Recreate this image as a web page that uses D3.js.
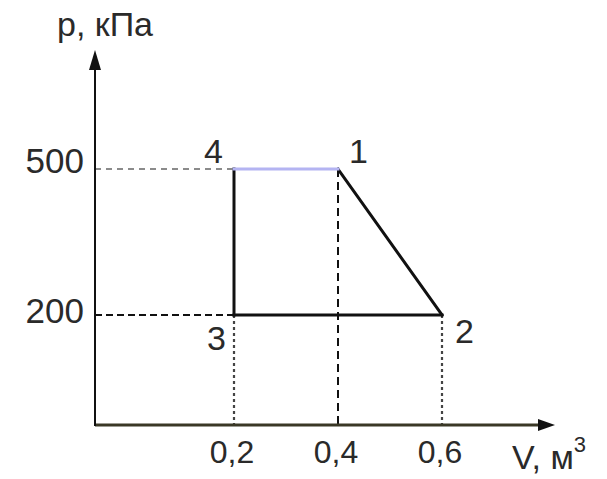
<!DOCTYPE html>
<html><head><meta charset="utf-8">
<script src="https://cdn.jsdelivr.net/npm/d3@7"></script>
<style>body{margin:0;background:#fff}svg{display:block}text{font-family:"Liberation Sans",Arial,sans-serif;fill:#2a2a2a}</style>
</head><body>
<script>
const vValues = [0.2, 0.4, 0.6];
const vLabels = ["0,2", "0,4", "0,6"];
const pValues = [500, 200];
const pLabels = ["500", "200"];
const stateNames = ["1", "2", "3", "4"];
const stateV = [0.4, 0.6, 0.2, 0.2];
const stateP = [500, 200, 200, 500];

const W = 607, H = 479;
const ox = 95, oy = 425;
const svg = d3.select("body").append("svg").attr("width", W).attr("height", H);
const x = d3.scaleLinear().domain([0.2, 0.6]).range([234, 442]);
const y = d3.scaleLinear().domain([200, 500]).range([315, 169]);

const pts = stateNames.map((n, i) => ({n, v: stateV[i], p: stateP[i]}));

// dashed guides
svg.append("line").attr("x1", ox).attr("x2", x(0.2)).attr("y1", y(500)).attr("y2", y(500))
  .attr("stroke", "#666").attr("stroke-width", 1.3).attr("stroke-dasharray", "6,5");
svg.append("line").attr("x1", ox).attr("x2", x(0.2)).attr("y1", y(200)).attr("y2", y(200))
  .attr("stroke", "#111").attr("stroke-width", 2).attr("stroke-dasharray", "7,4");
svg.append("line").attr("x1", x(0.4)).attr("x2", x(0.4)).attr("y1", y(500)).attr("y2", oy)
  .attr("stroke", "#111").attr("stroke-width", 2).attr("stroke-dasharray", "8,5");
[0.2, 0.6].forEach(v => {
  svg.append("line").attr("x1", x(v)).attr("x2", x(v)).attr("y1", y(200)).attr("y2", oy)
    .attr("stroke", "#444").attr("stroke-width", 2.2).attr("stroke-dasharray", "3,3");
});

// axes
svg.append("line").attr("x1", ox).attr("x2", 540).attr("y1", oy).attr("y2", oy)
  .attr("stroke", "#3a3826").attr("stroke-width", 3);
svg.append("path").attr("d", `M555,${oy} L538,${oy-6} L538,${oy+6} Z`).attr("fill", "#111");
svg.append("line").attr("x1", ox).attr("x2", ox).attr("y1", oy + 1).attr("y2", 66)
  .attr("stroke", "#111").attr("stroke-width", 2);
svg.append("path").attr("d", `M${ox},50 L${ox-6},70 L${ox+6},70 Z`).attr("fill", "#111");

// cycle
const edges = [[0, 1, "#111"], [1, 2, "#111"], [2, 3, "#111"], [3, 0, "#b4b4f2"]];
edges.forEach(([a, b, c]) => {
  svg.append("line").attr("x1", x(pts[a].v)).attr("y1", y(pts[a].p))
    .attr("x2", x(pts[b].v)).attr("y2", y(pts[b].p))
    .attr("stroke", c).attr("stroke-width", 3).attr("stroke-linecap", "square");
});

// tick labels
pValues.forEach((p, i) => {
  svg.append("text").attr("x", 84).attr("y", y(p) + (i === 0 ? 4 : 8))
    .attr("text-anchor", "end").attr("font-size", 35).text(pLabels[i]);
});
vValues.forEach((v, i) => {
  svg.append("text").attr("x", x(v) - 2).attr("y", 463)
    .attr("text-anchor", "middle").attr("font-size", 32).text(vLabels[i]);
});

// point labels
const off = {"1": [11, -6, "start"], "2": [13, 28, "start"], "3": [-8, 35, "end"], "4": [-11, -6, "end"]};
pts.forEach(d => {
  const o = off[d.n];
  svg.append("text").attr("x", x(d.v) + o[0]).attr("y", y(d.p) + o[1])
    .attr("text-anchor", o[2]).attr("font-size", 34).text(d.n);
});

// axis titles
svg.append("text").attr("x", 57).attr("y", 36).attr("font-size", 34).text("p, кПа");
const vt = svg.append("text").attr("x", 512).attr("y", 469).attr("font-size", 34);
vt.append("tspan").text("V, м");
vt.append("tspan").attr("font-size", 22).attr("dy", -17).text("3");
</script>
</body></html>
